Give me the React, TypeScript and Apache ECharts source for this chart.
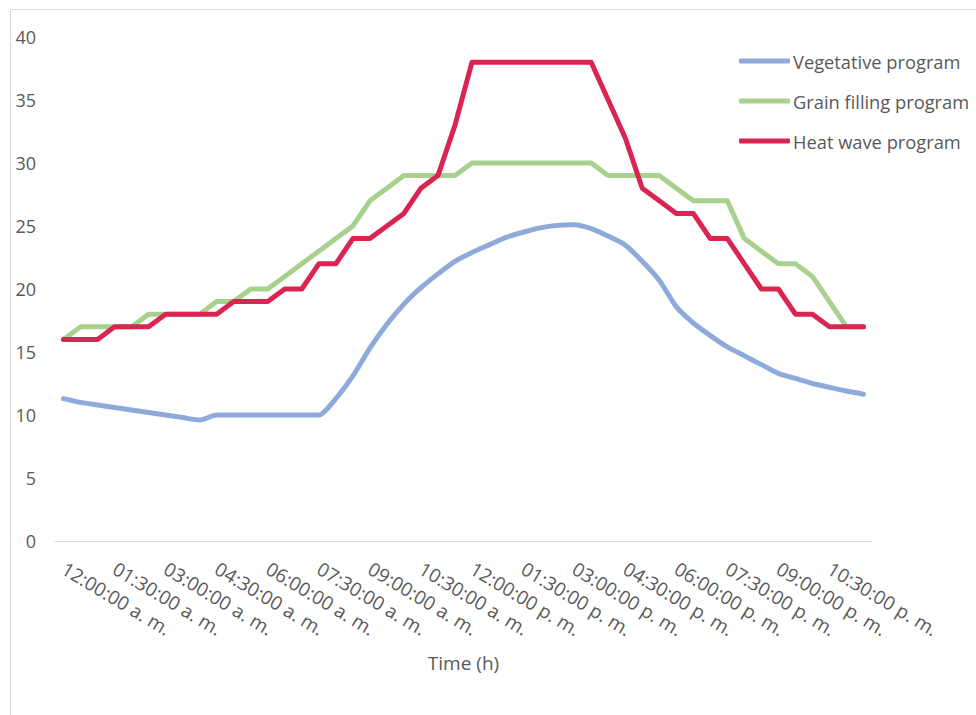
import React, { useEffect, useRef } from "react";
import * as echarts from "echarts";

const timeLabels: string[] = [
  "12:00:00 a. m.", "12:30:00 a. m.", "01:00:00 a. m.", "01:30:00 a. m.", "02:00:00 a. m.", "02:30:00 a. m.",
  "03:00:00 a. m.", "03:30:00 a. m.", "04:00:00 a. m.", "04:30:00 a. m.", "05:00:00 a. m.", "05:30:00 a. m.",
  "06:00:00 a. m.", "06:30:00 a. m.", "07:00:00 a. m.", "07:30:00 a. m.", "08:00:00 a. m.", "08:30:00 a. m.",
  "09:00:00 a. m.", "09:30:00 a. m.", "10:00:00 a. m.", "10:30:00 a. m.", "11:00:00 a. m.", "11:30:00 a. m.",
  "12:00:00 p. m.", "12:30:00 p. m.", "01:00:00 p. m.", "01:30:00 p. m.", "02:00:00 p. m.", "02:30:00 p. m.",
  "03:00:00 p. m.", "03:30:00 p. m.", "04:00:00 p. m.", "04:30:00 p. m.", "05:00:00 p. m.", "05:30:00 p. m.",
  "06:00:00 p. m.", "06:30:00 p. m.", "07:00:00 p. m.", "07:30:00 p. m.", "08:00:00 p. m.", "08:30:00 p. m.",
  "09:00:00 p. m.", "09:30:00 p. m.", "10:00:00 p. m.", "10:30:00 p. m.", "11:00:00 p. m.", "11:30:00 p. m.",
];

const vegetative: number[] = [
  11.3, 11.0, 10.8, 10.6, 10.4, 10.2, 10.0, 9.8, 9.6, 10.0, 10.0, 10.0,
  10.0, 10.0, 10.0, 10.0, 11.3, 13.1, 15.3, 17.2, 18.8, 20.1, 21.2, 22.2,
  22.9, 23.5, 24.1, 24.5, 24.85, 25.05, 25.1, 24.8, 24.2, 23.5, 22.2, 20.7,
  18.6, 17.3, 16.3, 15.4, 14.7, 14.0, 13.3, 12.9, 12.5, 12.2, 11.9, 11.65,
];

const grainFilling: number[] = [
  16, 17, 17, 17, 17, 18, 18, 18, 18, 19, 19, 20,
  20, 21, 22, 23, 24, 25, 27, 28, 29, 29, 29, 29,
  30, 30, 30, 30, 30, 30, 30, 30, 29, 29, 29, 29,
  28, 27, 27, 27, 24, 23, 22, 22, 21, 19, 17, 17,
];

const heatWave: number[] = [
  16, 16, 16, 17, 17, 17, 18, 18, 18, 18, 19, 19,
  19, 20, 20, 22, 22, 24, 24, 25, 26, 28, 29, 33,
  38, 38, 38, 38, 38, 38, 38, 38, 35, 32, 28, 27,
  26, 26, 24, 24, 22, 20, 20, 18, 18, 17, 17, 17,
];

const seriesNames: string[] = ["Vegetative program", "Grain filling program", "Heat wave program"];
const seriesColors: string[] = ["#8EAADB", "#A9D18E", "#DA2552"];
const yTicks = { min: 0, max: 40, interval: 5 };

export default function App() {
  const ref = useRef<HTMLDivElement>(null);
  useEffect(() => {
    if (!ref.current) return;
    const chart = echarts.init(ref.current, undefined, { renderer: "svg" });
    const font = "'Open Sans', 'Noto Sans', sans-serif";
    const dataSets = [vegetative, grainFilling, heatWave];
    chart.setOption({
      animation: false,
      backgroundColor: "#ffffff",
      textStyle: { fontFamily: font },
      graphic: [
        {
          type: "rect",
          shape: { x: 10.5, y: 9.5, width: 1000, height: 800 },
          style: { fill: "none", stroke: "#d9d9d9", lineWidth: 1 },
          silent: true,
        },
      ],
      legend: {
        orient: "vertical",
        left: 734,
        top: 46,
        icon: "roundRect",
        itemWidth: 51,
        itemHeight: 5,
        itemGap: 20,
        textStyle: { fontSize: 18.3, lineHeight: 20, color: "#595959", fontFamily: font, padding: [0, 0, 0, -2] },
        data: seriesNames,
      },
      grid: { left: 55, right: 104, top: 37, bottom: 174, containLabel: false },
      xAxis: {
        type: "category",
        data: timeLabels,
        boundaryGap: true,
        axisLine: { show: true, lineStyle: { color: "#d9d9d9", width: 1 } },
        axisTick: { show: false },
        axisLabel: {
          interval: 2,
          rotate: -31,
          margin: 26,
          fontSize: 19,
          color: "#595959",
          fontFamily: font,
        },
        name: "Time (h)",
        nameLocation: "middle",
        nameGap: 112,
        nameTextStyle: { fontSize: 19, color: "#595959", fontFamily: font },
      },
      yAxis: {
        type: "value",
        min: yTicks.min,
        max: yTicks.max,
        interval: yTicks.interval,
        axisLine: { show: false },
        axisTick: { show: false },
        splitLine: { show: false },
        axisLabel: { fontSize: 18, color: "#595959", margin: 19, fontFamily: font },
      },
      series: seriesNames.map((name, i) => ({
        name,
        type: "line",
        data: dataSets[i],
        symbol: "none",
        showSymbol: false,
        smooth: i === 0 ? 0.25 : false,
        lineStyle: { color: seriesColors[i], width: 5, cap: "round", join: "round" },
        itemStyle: { color: seriesColors[i] },
      })),
    });
    return () => chart.dispose();
  }, []);
  return <div ref={ref} style={{ position: "fixed", left: 0, top: 0, width: 976, height: 715 }} />;
}
